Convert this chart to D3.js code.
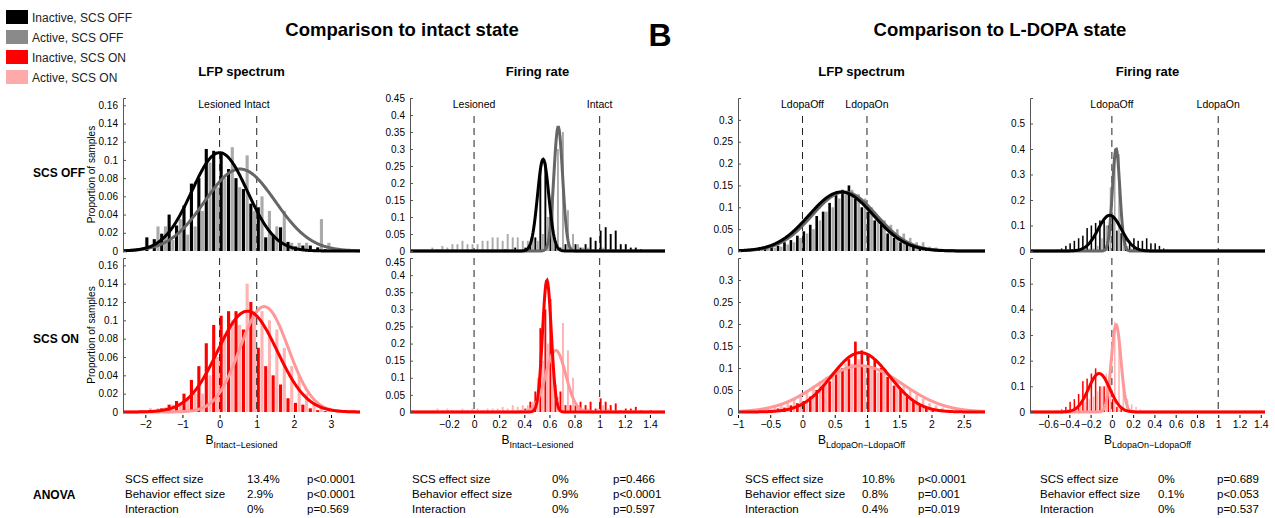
<!DOCTYPE html>
<html><head><meta charset="utf-8">
<script src="https://cdn.jsdelivr.net/npm/d3@7"></script>
<style>
body{margin:0;background:#fff;font-family:"Liberation Sans",Arial,sans-serif;}
text{font-family:"Liberation Sans",Arial,sans-serif;}
</style></head>
<body><svg id="c" width="1275" height="518"></svg>
<script>
// legend
const legendNames = ["Inactive, SCS OFF", "Active, SCS OFF", "Inactive, SCS ON", "Active, SCS ON"];
const legendColors = ["#000", "#8a8a8a", "#f00", "#ffaaaa"];

// histograms: start of first bin, bin width, values
const p1Start = -2.0, p1Width = 0.2;
const p1OffDark = [0.015,0.013,0.019,0.04,0.028,0.05,0.074,0.08,0.112,0.11,0.108,0.09,0.08,0.068,0.052,0.048,0.015,0.018,0.026,0.01,0.005,0.006,0.006,0.004,0.002,0.002];
const p1OffLight = [0,0.027,0.027,0.012,0.035,0.018,0.027,0.044,0.097,0.07,0.08,0.114,0.07,0.105,0.044,0.06,0.044,0.027,0.044,0.009,0.009,0.009,0.002,0.035,0.009,0];
const p1OnDark = [0.001,0.002,0.004,0.008,0.012,0.02,0.035,0.05,0.075,0.095,0.105,0.11,0.11,0.09,0.12,0.07,0.05,0.04,0.03,0.015,0.01,0.008,0.004,0.002,0.001,0];
const p1OnLight = [0.004,0.004,0.005,0.008,0.01,0.015,0.02,0.02,0.04,0.06,0.085,0.1,0.095,0.14,0.11,0.11,0.1,0.09,0.07,0.05,0.04,0.02,0.01,0.005,0.003,0];

const p2Start = -0.4, p2Width = 0.04;
const p2OffDark = [0,0,0,0,0,0,0,0,0,0, 0,0,0,0,0,0,0.005,0,0.01,0, 0.01,0.02,0.04,0.24,0.26, 0.1,0.02,0.01,0.02,0.01, 0.02,0.01,0.02,0.04,0.03, 0.06,0.07,0.05,0.06,0.02, 0.02,0.01,0.01,0.005,0,0,0];
const p2OffLight = [0,0.01,0.005,0.015,0.01,0.02,0.02,0.03,0.02,0.02, 0.02,0.03,0.03,0.04,0.04,0.03,0.05,0.04,0.04,0.03, 0.03,0.04,0.03,0.05,0.1, 0.15,0.3,0.35,0.12,0.05, 0.02,0.01,0.01,0.005,0, 0.01,0,0.005,0,0, 0,0,0,0,0,0,0];
const p2OnDark = [0,0,0,0,0,0,0,0,0,0, 0,0,0,0,0,0,0,0,0,0.005, 0.01,0.03,0.06,0.245,0.3, 0.33,0.08,0.06,0.02,0.02, 0.02,0.03,0.02,0.03,0.01, 0.04,0.03,0.02,0.025,0.005, 0.01,0.01,0.015,0.005,0,0.005,0];
const p2OnLight = [0,0.005,0.01,0.005,0.01,0.005,0.005,0.01,0.005,0.01, 0.01,0.005,0.01,0.01,0.01,0.015,0.01,0.02,0.015,0.02, 0.02,0.03,0.1,0.15,0.2, 0.12,0.045,0.26,0.18,0.1, 0.02,0.01,0.01,0.005,0.01, 0.02,0.01,0.005,0.005,0, 0.005,0.005,0,0.005,0,0,0];

const p3Start = -0.8, p3Width = 0.1;
const p3OffDark = [0.002,0.005,0.006,0.01,0.012,0.02,0.025,0.035,0.045,0.06,0.08,0.09,0.11,0.13,0.14,0.15,0.12,0.1,0.09,0.07,0.06,0.04,0.03,0.02,0.015,0.01,0.008,0.005,0.003,0.002];
const p3OffLight = [0,0.003,0.005,0.008,0.01,0.015,0.02,0.03,0.04,0.05,0.07,0.09,0.1,0.12,0.13,0.14,0.13,0.12,0.1,0.08,0.07,0.06,0.05,0.04,0.03,0.02,0.02,0.01,0.008,0.004];
const p3OnDark = [0,0.002,0.003,0.005,0.008,0.01,0.015,0.02,0.025,0.035,0.05,0.06,0.07,0.09,0.1,0.12,0.16,0.14,0.13,0.12,0.1,0.08,0.06,0.05,0.035,0.025,0.015,0.01,0.005,0.002];
const p3OnLight = [0.005,0.008,0.01,0.015,0.02,0.025,0.03,0.04,0.05,0.06,0.07,0.08,0.09,0.1,0.11,0.11,0.12,0.1,0.1,0.09,0.09,0.08,0.07,0.06,0.05,0.04,0.03,0.02,0.015,0.01];

const p4Start = -0.6, p4Width = 0.04;
const p4OffDark = [0,0,0.005,0.01,0.02,0.03,0.04,0.05,0.06,0.09,0.1,0.11,0.12,0.13,0.1,0.14,0.08,0.07,0.05,0.04,0.05,0.04,0.04,0.05,0.03,0.03,0.02,0.01,0.005,0];
const p4OffLight = [0,0,0,0,0,0,0,0,0.005,0.01,0.01,0.02,0.05,0.1,0.25,0.4,0.38,0.1,0.02,0.01,0.005,0,0,0,0,0,0,0,0,0];
const p4OnDark = [0,0,0.005,0.01,0.02,0.04,0.05,0.07,0.12,0.13,0.15,0.17,0.1,0.1,0.08,0.05,0.02,0.02,0.01,0.005,0.005,0,0,0,0,0,0,0,0,0];
const p4OnLight = [0,0,0,0.005,0.01,0.01,0.02,0.03,0.04,0.05,0.06,0.08,0.1,0.15,0.2,0.35,0.3,0.1,0.05,0.03,0.02,0.01,0.005,0,0,0,0,0,0,0];

// fitted normal curves: [mean, sd, peak]
const p1Fits = [[0,0.75,0.108],[0.55,0.95,0.09],[0.75,0.8,0.11],[1.2,0.65,0.115]];
const p2Fits = [[0.55,0.045,0.27],[0.67,0.035,0.365],[0.58,0.035,0.385],[0.65,0.08,0.18]];
const p3Fits = [[0.6,0.5,0.135],[0.65,0.5,0.135],[0.9,0.45,0.135],[0.9,0.65,0.105]];
const p4Fits = [[-0.02,0.11,0.14],[0.04,0.035,0.4],[-0.12,0.1,0.15],[0.04,0.045,0.34]];

const anovaLabels = ["SCS effect size", "Behavior effect size", "Interaction"];
const p1Anova = [["13.4%","p<0.0001"],["2.9%","p<0.0001"],["0%","p=0.569"]];
const p2Anova = [["0%","p=0.466"],["0.9%","p<0.0001"],["0%","p=0.597"]];
const p3Anova = [["10.8%","p<0.0001"],["0.8%","p=0.001"],["0.4%","p=0.019"]];
const p4Anova = [["0%","p=0.689"],["0.1%","p<0.053"],["0%","p=0.537"]];

const panels = [
  {x0:123,x1:360,xd:[-2.6,3.78],ymax:0.168,yt:d3.range(0,0.161,0.02),xt:[-2,-1,0,1,2,3],
   start:p1Start,w:p1Width,off:[p1OffDark,p1OffLight],on:[p1OnDark,p1OnLight],fits:p1Fits,
   refs:["Lesioned","Intact"],sub:"Intact\u2212Lesioned",title:"LFP spectrum",anova:p1Anova,ylab:true,
   ax:[125,247,307]},
  {x0:410,x1:665,xd:[-0.51,1.52],ymax:0.45,yt:d3.range(0,0.451,0.05),xt:[-0.2,0,0.2,0.4,0.6,0.8,1,1.2,1.4],
   start:p2Start,w:p2Width,off:[p2OffDark,p2OffLight],on:[p2OnDark,p2OnLight],fits:p2Fits,
   refs:["Lesioned","Intact"],sub:"Intact\u2212Lesioned",title:"Firing rate",anova:p2Anova,
   ax:[412,552,613]},
  {x0:738,x1:985,xd:[-1,2.83],ymax:0.35,yt:d3.range(0,0.301,0.05),xt:[-1,-0.5,0,0.5,1,1.5,2,2.5],
   start:p3Start,w:p3Width,off:[p3OffDark,p3OffLight],on:[p3OnDark,p3OnLight],fits:p3Fits,
   refs:["LdopaOff","LdopaOn"],sub:"LdopaOn\u2212LdopaOff",title:"LFP spectrum",anova:p3Anova,
   ax:[745,862,918]},
  {x0:1030,x1:1265,xd:[-0.77,1.44],ymax:0.6,yt:d3.range(0,0.51,0.1),xt:[-0.6,-0.4,-0.2,0,0.2,0.4,0.6,0.8,1,1.2,1.4],
   start:p4Start,w:p4Width,off:[p4OffDark,p4OffLight],on:[p4OnDark,p4OnLight],fits:p4Fits,
   refs:["LdopaOff","LdopaOn"],sub:"LdopaOn\u2212LdopaOff",title:"Firing rate",anova:p4Anova,
   ax:[1040,1158,1217]}
];
const rows = [{y0:98,y1:251,key:"off",cols:["#000","#aaa"],lc:["#000","#666"]},
              {y0:258,y1:412,key:"on",cols:["#f00","#ffb3b3"],lc:["#f00","#ff9999"]}];

const svg = d3.select("#c");

// legend
legendNames.forEach(function(n,i){
  svg.append("rect").attr("x",6).attr("y",10+i*20).attr("width",22).attr("height",14).attr("fill",legendColors[i]);
  svg.append("text").attr("x",32).attr("y",22+i*20).attr("font-size",12).attr("fill","#222").text(n);
});
svg.append("text").attr("x",402).attr("y",36).attr("text-anchor","middle").attr("font-size",18.5).attr("font-weight","bold").text("Comparison to intact state");
svg.append("text").attr("x",660).attr("y",46).attr("text-anchor","middle").attr("font-size",32).attr("font-weight","bold").text("B");
svg.append("text").attr("x",1000).attr("y",36).attr("text-anchor","middle").attr("font-size",18.5).attr("font-weight","bold").text("Comparison to L-DOPA state");
[["SCS OFF",177],["SCS ON",343],["ANOVA",499]].forEach(function(r){
  svg.append("text").attr("x",33).attr("y",r[1]).attr("font-size",12).attr("font-weight","bold").text(r[0]);
});

panels.forEach(function(p){
  var x = d3.scaleLinear().domain(p.xd).range([p.x0,p.x1]);
  svg.append("text").attr("x",(p.x0+p.x1)/2).attr("y",76).attr("text-anchor","middle").attr("font-size",13).attr("font-weight","bold").text(p.title);

  rows.forEach(function(r,ri){
    var y = d3.scaleLinear().domain([0,p.ymax]).range([r.y1,r.y0]);
    var g = svg.append("g");
    var data = p[r.key];
    data.forEach(function(arr,si){
      g.selectAll(null).data(arr).enter().append("rect")
        .attr("x",function(d,i){ return x(p.start+i*p.w+si*p.w/2); })
        .attr("width",Math.max(1,x(p.w/2)-x(0)-0.6))
        .attr("y",function(d){ return y(d); })
        .attr("height",function(d){ return r.y1-y(d); })
        .attr("fill",r.cols[si]);
    });
    // dashed reference lines
    [0,1].forEach(function(v){
      g.append("line").attr("x1",x(v)).attr("x2",x(v)).attr("y1",ri==0?116:r.y0).attr("y2",r.y1)
        .attr("stroke","#222").attr("stroke-dasharray","7,5").attr("stroke-width",1);
    });
    // curves (light first, then dark)
    [1,0].forEach(function(si){
      var f = p.fits[ri*2+si];
      var xs = d3.range(0,401).map(function(i){ return p.xd[0]+(p.xd[1]-p.xd[0])*i/400; });
      var line = d3.line().x(function(v){ return x(v); })
        .y(function(v){ return y(f[2]*Math.exp(-0.5*Math.pow((v-f[0])/f[1],2))); });
      g.append("path").datum(xs).attr("d",line).attr("fill","none").attr("stroke",r.lc[si]).attr("stroke-width",3);
    });
    var ya = d3.axisLeft(y).tickValues(p.yt).tickSize(-3).tickFormat(function(d){ return d==0?"0":d3.format("~g")(+d.toFixed(2)); });
    var ag = svg.append("g").attr("transform","translate("+p.x0+",0)").call(ya);
    ag.selectAll("text").attr("font-size",10).attr("x",-5);
    if(ri==1) ag.selectAll("text").filter(function(d){ return y(d) < r.y0+4; }).attr("dy","0.7em");
    ag.select(".domain").attr("stroke","#555");
    ag.selectAll("line").attr("stroke","#555");
    if(p.ylab){
      svg.append("text").attr("transform","translate(95,"+((r.y0+r.y1)/2)+") rotate(-90)").attr("text-anchor","middle").attr("font-size",10).text("Proportion of samples");
    }
  });
  // ref labels
  [0,1].forEach(function(v,i){
    svg.append("text").attr("x",x(v)).attr("y",108).attr("text-anchor","middle").attr("font-size",10.5).text(p.refs[i]);
  });
  var xa = d3.axisBottom(x).tickValues(p.xt).tickSize(3).tickFormat(function(d){ return d3.format("~g")(d).replace("-","\u2212"); });
  var xg = svg.append("g").attr("transform","translate(0,415)").call(xa);
  xg.select(".domain").remove();
  xg.selectAll("text").attr("font-size",10.5);
  var lab = svg.append("text").attr("x",(p.x0+p.x1)/2).attr("y",444).attr("text-anchor","middle").attr("font-size",12);
  lab.append("tspan").text("B");
  lab.append("tspan").attr("dy",4).attr("font-size",9).text(p.sub);
  // anova
  anovaLabels.forEach(function(l,i){
    var yy = 483+i*15;
    svg.append("text").attr("x",p.ax[0]).attr("y",yy).attr("font-size",11.5).text(l);
    svg.append("text").attr("x",p.ax[1]).attr("y",yy).attr("font-size",11.5).text(p.anova[i][0]);
    svg.append("text").attr("x",p.ax[2]).attr("y",yy).attr("font-size",11.5).text(p.anova[i][1]);
  });
});
</script></body></html>
